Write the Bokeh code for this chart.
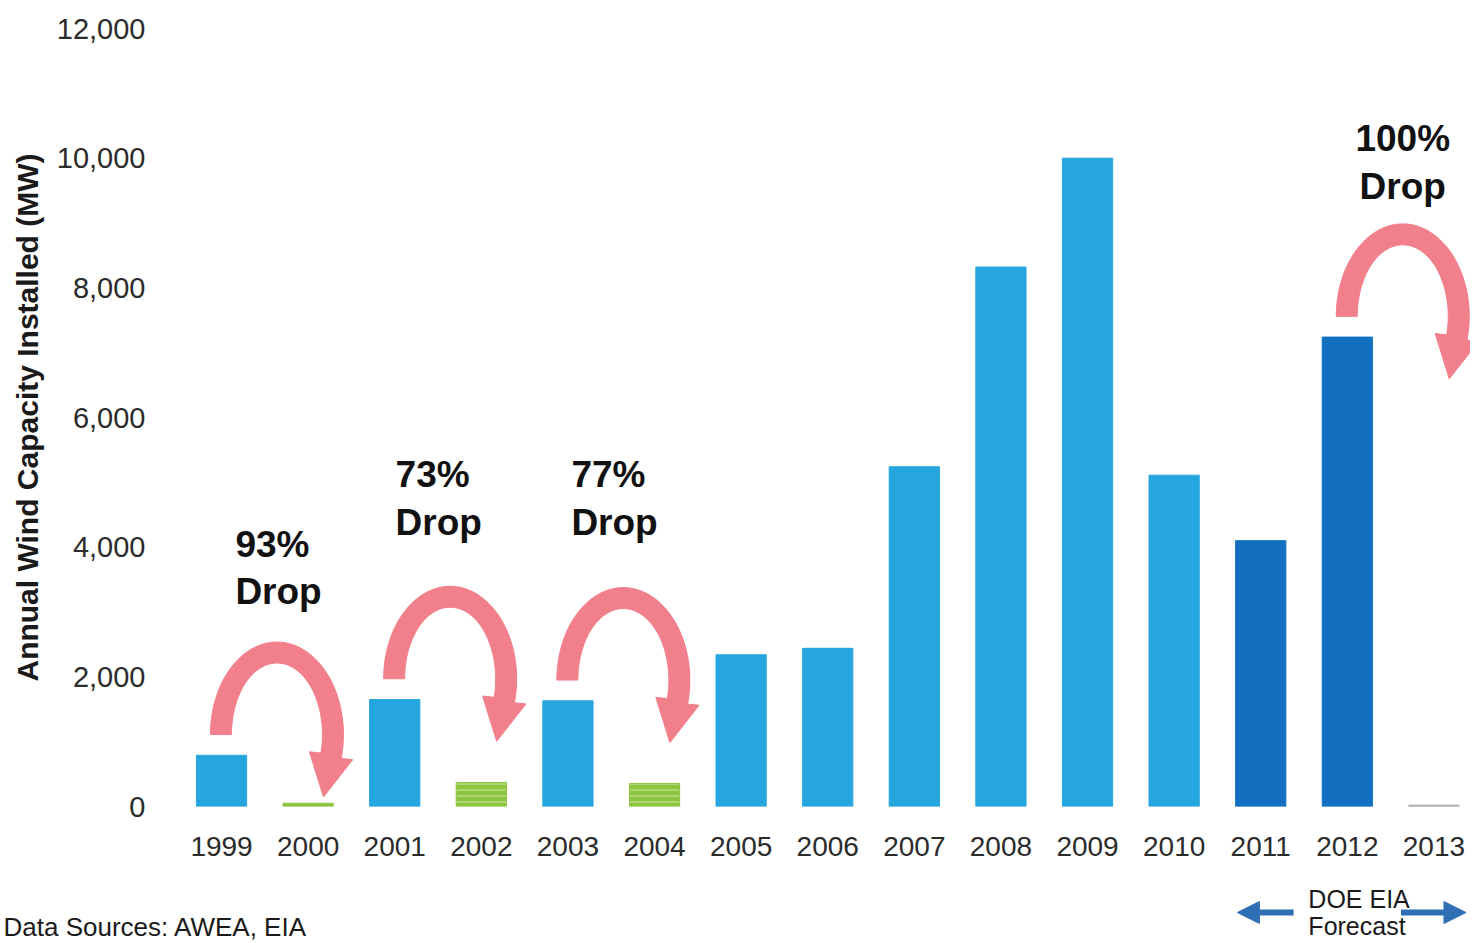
import numpy as np
from bokeh.plotting import figure
from bokeh.models import (Range1d, FixedTicker, NumeralTickFormatter, Arrow, NormalHead,
                          ColumnDataSource)
from bokeh.core.properties import value
from bokeh.embed import file_html
from bokeh.resources import INLINE

# ---------------- data ----------------
years = [1999, 2000, 2001, 2002, 2003, 2004, 2005, 2006, 2007, 2008, 2009, 2010, 2011, 2012, 2013]
capacity_mw = [790, 50, 1650, 370, 1630, 355, 2340, 2440, 5240, 8320, 10000, 5110, 4100, 7240, 20]
bar_kind = ["actual", "drop", "actual", "drop", "actual", "drop", "actual", "actual",
            "actual", "actual", "actual", "actual", "forecast", "forecast", "zero"]
y_ticks = [0, 2000, 4000, 6000, 8000, 10000, 12000]

drop_from_years = [1999, 2001, 2003, 2012]
drop_labels = ["93%\nDrop", "73%\nDrop", "77%\nDrop", "100%\nDrop"]
drop_label_x = [1999.16, 2001.01, 2003.04, 2012.64]
drop_label_y = [4365, 5430, 5430, 10612]

y_label = "Annual Wind Capacity Installed (MW)"
source_note = "Data Sources: AWEA, EIA"
forecast_lines = ["DOE EIA", "Forecast"]

# ---------------- styling ----------------
kind_color = {"actual": "#25a6df", "drop": "#8cc540", "forecast": "#1370c0", "zero": "#a8a8a8"}
colors = [kind_color[k] for k in bar_kind]
hatches = ["horizontal_line" if k == "drop" else " " for k in bar_kind]
PINK = "#f2808c"
ARROW_BLUE = "#2e6fb5"
FONT = "Liberation Sans"

W, H = 1470, 870
MBL, MBR, MBT, MBB = 165, 0, 28, 64
X0 = 1998.353
X1 = X0 + (W - MBL - MBR) / 86.6
Y0, Y1 = 0, 12000
SX = (W - MBL - MBR) / (X1 - X0)      # px per year
SY = (H - MBT - MBB) / (Y1 - Y0)      # px per MW

p = figure(width=W, height=H, output_backend="svg", toolbar_location=None,
           x_range=Range1d(X0, X1), y_range=Range1d(Y0, Y1),
           min_border_left=MBL, min_border_right=MBR, min_border_top=MBT, min_border_bottom=MBB)
p.outline_line_color = None
p.grid.visible = False
p.background_fill_color = "white"
p.border_fill_color = "white"

# bars
src = ColumnDataSource(dict(x=years, top=capacity_mw, color=colors, hatch=hatches))
p.vbar(x="x", top="top", width=0.58, color="color", source=src,
       hatch_pattern="hatch", hatch_color="#b9dd86", hatch_scale=6, hatch_weight=1.5)

# axes
yax = p.yaxis[0]
yax.ticker = FixedTicker(ticks=y_ticks)
yax.formatter = NumeralTickFormatter(format="0,0")
yax.axis_line_color = None
yax.major_tick_line_color = None
yax.minor_tick_line_color = None
yax.major_label_text_font = FONT
yax.major_label_text_font_size = "29px"
yax.major_label_text_color = "#2b2b2b"
yax.major_label_standoff = 14
yax.axis_label = y_label
yax.axis_label_text_font = FONT
yax.axis_label_text_font_style = "bold"
yax.axis_label_text_font_size = "30px"
yax.axis_label_text_color = "#1a1a1a"
yax.axis_label_standoff = 10

xax = p.xaxis[0]
xax.ticker = FixedTicker(ticks=years)
xax.formatter = NumeralTickFormatter(format="0")
xax.axis_line_color = None
xax.major_tick_line_color = None
xax.minor_tick_line_color = None
xax.major_label_text_font = FONT
xax.major_label_text_font_size = "28px"
xax.major_label_text_color = "#2b2b2b"
xax.major_label_standoff = 24

# curved "drop" arrows (geometry in screen pixels, converted to data units)
RX, RY, AW = 56, 82, 21
T_END = np.radians(-15)
HW, HL = 22, 42

def drop_arrow(cx, cy):
    ts = np.linspace(np.pi, T_END, 80)
    ox = cx + (RX + AW / 2) * np.cos(ts) / SX
    oy = cy + (RY + AW / 2) * np.sin(ts) / SY
    ix = cx + (RX - AW / 2) * np.cos(ts[::-1]) / SX
    iy = cy + (RY - AW / 2) * np.sin(ts[::-1]) / SY
    px, py = RX * np.cos(T_END), RY * np.sin(T_END)
    tx, ty = RX * np.sin(T_END), -RY * np.cos(T_END)
    tn = np.hypot(tx, ty); tx, ty = tx / tn, ty / tn
    nx, ny = -ty, tx
    if nx * px + ny * py < 0:
        nx, ny = -nx, -ny
    head_x = [px + nx * HW, px + tx * HL, px - nx * HW]
    head_y = [py + ny * HW, py + ty * HL, py - ny * HW]
    hx = [cx + v / SX for v in head_x]
    hy = [cy + v / SY for v in head_y]
    xs = list(ox) + hx + list(ix)
    ys = list(oy) + hy + list(iy)
    return xs, ys

GAP = 320  # MW between bar top and arrow start
arr_xs, arr_ys = [], []
for yr in drop_from_years:
    v = capacity_mw[years.index(yr)]
    xs, ys = drop_arrow(yr + 0.64, v + GAP)
    arr_xs.append(xs); arr_ys.append(ys)
p.patches(xs=arr_xs, ys=arr_ys, fill_color=PINK, line_color=PINK, line_width=1)

# drop labels
p.text(x=drop_label_x[:3], y=drop_label_y[:3], text=drop_labels[:3],
       text_font=value(FONT), text_font_style="bold", text_font_size="37px",
       text_color="#111111", text_align="left", text_baseline="top", text_line_height=1.15)
p.text(x=drop_label_x[3:], y=drop_label_y[3:], text=drop_labels[3:],
       text_font=value(FONT), text_font_style="bold", text_font_size="37px",
       text_color="#111111", text_align="center", text_baseline="top", text_line_height=1.15)

# ---------------- bottom strip (forecast note, sources) ----------------
HB = 70
XB0 = X0 - MBL / SX
XB1 = X1 + MBR / SX
q = figure(width=W, height=HB, output_backend="svg", toolbar_location=None,
           x_range=Range1d(XB0, XB1), y_range=Range1d(0, HB),
           x_axis_location=None, y_axis_location=None, min_border=0)
q.outline_line_color = None
q.grid.visible = False
q.background_fill_color = "white"
q.border_fill_color = "white"

q.text(x=[2011.55, 2011.55], y=[42, 15], text=forecast_lines, text_font=value(FONT),
       text_font_size="25px", text_color="#1a1a1a", text_align="left", text_baseline="middle")
q.add_layout(Arrow(end=NormalHead(size=22, fill_color=ARROW_BLUE, line_color=ARROW_BLUE),
                   x_start=2011.38, y_start=28, x_end=2010.73, y_end=28,
                   line_color=ARROW_BLUE, line_width=6))
q.add_layout(Arrow(end=NormalHead(size=22, fill_color=ARROW_BLUE, line_color=ARROW_BLUE),
                   x_start=2012.62, y_start=28, x_end=2013.37, y_end=28,
                   line_color=ARROW_BLUE, line_width=6))
q.text(x=[XB0 + 3 / SX], y=[14], text=[source_note], text_font=value(FONT), text_font_size="26px",
       text_color="#1a1a1a", text_align="left", text_baseline="middle")

open("out.html", "w").write(file_html([p, q], INLINE))
